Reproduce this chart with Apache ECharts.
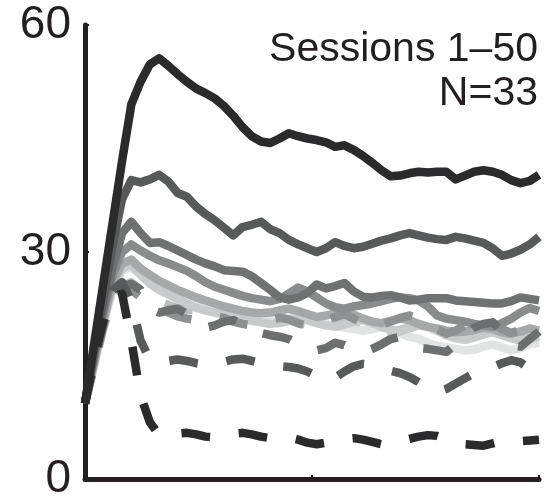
<!DOCTYPE html>
<html>
<head>
<meta charset="utf-8">
<script src="https://cdn.jsdelivr.net/npm/echarts@6/dist/echarts.min.js"></script>
<style>
html,body{margin:0;padding:0;background:#fff;}
#chart{width:548px;height:502px;}
</style>
</head>
<body>
<div id="chart"></div>
<script>
const sessions = [1,2,3,4,5,6,7,8,9,10,11,12,13,14,15,16,17,18,19,20,21,22,23,24,25,26,27,28,29,30,31,32,33,34,35,36,37,38,39,40,41,42,43,44,45,46,47,48,49,50];
const yTicks = [0, 30, 60];
const xTicks = [1, 25.5, 50];
const titleLine1 = 'Sessions 1\u201350';
const titleLine2 = 'N=33';

// solid lines
const solidBlack = [10,18,26,34,42,49.5,52.5,54.8,55.6,54.6,53.5,52.5,51.6,51,50.3,49.3,48,46.5,45.3,44.6,44.4,45,45.7,45.3,45,44.8,44.5,43.9,44.1,43.5,42.7,41.8,40.8,40,40.1,40.4,40.6,40.5,40.6,40.6,39.6,40.1,40.6,40.8,40.6,40.2,39.5,39.1,39.4,40.2];
const solidDark = [10,17,24,31,37,39.5,39.2,39.6,40.2,39.3,37.8,37.3,36,35,34.2,33.2,32.2,33.3,33.6,34,33,32.5,31.6,31,30.5,30,30.5,31.3,30.8,30.5,30.7,31.1,31.5,31.8,32.2,32.5,32.2,31.9,31.7,31.6,32,31.8,31.5,31.2,30.5,29.5,29.8,30.3,31,32];
const solidMid = [10,16.5,22.5,28,32.5,34,32.5,31.2,31.3,30.8,30.2,29.6,29,28.5,28.1,27.6,27.5,27.4,26.8,25.9,25,24,23.7,24,24.6,25.7,25.2,25.5,25.9,24.8,24.1,24,24.2,24.3,24,23.6,23.7,23.9,23.9,23.9,23.6,23.5,23.4,23.3,23.2,23.2,23.5,24,23.8,23.6];
const solidGrey = [10,16,22,27,30,31,30.2,29.5,28.9,28.5,28,27.5,26.8,26,25.4,25,24.6,24.2,23.9,23.7,23.5,23.8,24.5,25.3,24.8,24,23.2,22.7,22.5,22.8,23,23.2,23.5,23.8,24,23.9,23.6,22.8,21.6,21.2,21,20.8,20.5,20.3,20.1,20.6,21.2,22,22.6,22.2];
const solidLightGrey = [10,15.5,21,26,28.5,29,27.8,27,26.2,25.6,25,24.5,24,23.6,23.2,22.8,22.5,22.2,22,21.9,22,22.3,22.5,22.2,21.8,21.4,21.6,21.9,22.1,21.7,21.2,20.8,20.6,20.9,21.2,21,20.5,20.1,19.9,19.6,19.4,19.5,19.7,20,19.8,19.4,19.2,19.5,19.9,19.6];
const solidPale = [10,15.2,20.8,25.5,27.8,28.3,27,25.8,25,24.4,23.8,23.2,22.6,22.3,22,21.8,21.5,21.1,20.9,20.7,20.5,20.6,20.9,21.3,21,20.6,20.3,20.1,20.4,20.8,21,20.6,20.1,19.7,19.5,19.9,20.3,20.1,19.6,19,18.6,18.4,18.7,19.1,19.4,19,18.6,18.3,18.5,18.8];
const solidPalest = [10,15,20.5,25,27.5,28,27,26,25.3,24.6,24,23.5,23,22.7,22.4,22,21.8,21.5,21.3,21.2,21,20.8,21.2,21.5,21.2,20.8,20.5,20.2,20,19.8,19.6,19.8,20.1,19.8,19.3,18.8,18.5,18,17.6,17.4,17.2,17,17.1,17.5,17.8,17.4,17,17.3,17.8,18];

// dashed lines
const dashMid = [10,15.5,20.5,24,25.5,25.8,25,22.5,22,22.3,22.5,21.8,20.8,20,20.3,20.8,21,20.5,19.8,19.3,19,18.8,18.5,17.8,17.2,17,17.3,18,17.7,17.1,16.7,17.2,17.8,18.5,18.8,18.2,17.3,17.2,17,16.8,17.8,19,20,20.5,20.7,19.5,17.7,17.5,18.5,19.5];
const dashGrey = [10,15,20.5,24.5,25.5,25,24,23.2,22.6,22,21.5,21.2,21,21.2,21.6,21.3,20.8,20.5,20.3,20.6,21,21.3,21.1,20.6,20.2,20.5,21,21.4,21.8,21.2,20.6,20.1,20.4,20.8,21.3,21.6,21.2,20.5,19.8,19.2,19.6,20.3,20.9,21.2,20.6,19.8,19.3,19.7,20.3,20.8];
const dashLight = [10,15,20,24,25.5,26,25,24.2,23.5,23,22.6,22.4,22.2,21.8,21.3,21,20.8,20.9,21.2,21.6,21.8,21.5,21,20.6,20.4,20.2,20.5,20.9,21.3,21,20.6,20.2,19.8,19.5,19.7,20,20.3,19.9,19.4,19,18.8,19.1,19.5,19.8,19.6,19.2,18.9,19.1,19.4,19.2];
const dashDark = [10,16,21.5,25,26,23.5,18.3,15.8,15.3,15.6,15.8,15.6,15.3,15.1,15.2,15.5,15.8,15.9,15.6,15.3,15.1,14.9,14.8,14.6,14.2,13.6,13.1,13.4,14.2,14.9,15.2,15.1,14.8,14.3,14,13.5,12.8,12,11.5,11.9,12.6,13.3,14,14.5,14.8,15.3,15.7,15.4,14.6,14];
const dashBlack = [10,16,21,24,24.5,18.3,11,7.5,5.8,5.9,6,6.1,5.9,5.6,5.5,5.7,6,6.1,5.9,5.6,5.4,5.3,5.5,5.2,4.8,4.6,4.8,5,5.3,5.4,5.2,4.9,4.6,4.7,5,5.3,5.6,5.8,5.7,5.3,4.9,4.6,4.5,4.4,4.7,5,5.1,5,5.1,5.2];

const lineDefs = [
  {name:'pale2', data: solidPalest, color:'#e2e3e3', dashed:false},
  {name:'dashLight', data: dashLight, color:'#bcbdbf', dashed:true},
  {name:'pale', data: solidPale, color:'#c9cacb', dashed:false},
  {name:'lightGrey', data: solidLightGrey, color:'#a7a8aa', dashed:false},
  {name:'dashGrey', data: dashGrey, color:'#8f9092', dashed:true},
  {name:'grey', data: solidGrey, color:'#8a8b8d', dashed:false},
  {name:'dashMid', data: dashMid, color:'#6d6e70', dashed:true},
  {name:'mid', data: solidMid, color:'#707173', dashed:false},
  {name:'dashDark', data: dashDark, color:'#58595b', dashed:true},
  {name:'dark', data: solidDark, color:'#58595b', dashed:false},
  {name:'dashBlack', data: dashBlack, color:'#2b2a2c', dashed:true},
  {name:'black', data: solidBlack, color:'#2b2a2c', dashed:false}
];

const chart = echarts.init(document.getElementById('chart'), null, {renderer:'canvas'});
const axisColor = '#231f20';
const font = "'Liberation Sans', Arial, Helvetica, sans-serif";

const option = {
  animation: false,
  backgroundColor: '#fff',
  grid: {left: 85, right: 9, top: 25, bottom: 23, containLabel: false},
  xAxis: {
    type: 'value', min: sessions[0], max: sessions[sessions.length-1],
    axisLine: {show: true, lineStyle: {color: axisColor, width: 5}},
    axisTick: {show: true, inside: true, length: 4, customValues: xTicks, lineStyle: {color: axisColor, width: 2}},
    axisLabel: {show: false},
    splitLine: {show: false}
  },
  yAxis: {
    type: 'value', min: yTicks[0], max: yTicks[yTicks.length-1], interval: 30,
    axisLine: {show: true, lineStyle: {color: axisColor, width: 5}},
    axisTick: {show: true, inside: true, length: 4, lineStyle: {color: axisColor, width: 2}},
    axisLabel: {show: true, color: axisColor, fontSize: 46, fontFamily: font, margin: 14},
    splitLine: {show: false}
  },
  graphic: [{
    type: 'text', right: 10, top: 28,
    style: {text: titleLine1 + '\n' + titleLine2, font: "41px " + font, textAlign: 'right', lineHeight: 44, fill: axisColor}
  }],
  series: lineDefs.map(d => ({
    type: 'line', name: d.name,
    data: d.data.map((v, i) => [sessions[i], v]),
    showSymbol: false, symbol: 'none',
    lineStyle: {color: d.color, width: 8.5, type: d.dashed ? [29, 29] : 'solid', cap: 'butt', join: 'round'},
    emphasis: {disabled: true},
    silent: true
  }))
};
chart.setOption(option);
</script>
</body>
</html>
